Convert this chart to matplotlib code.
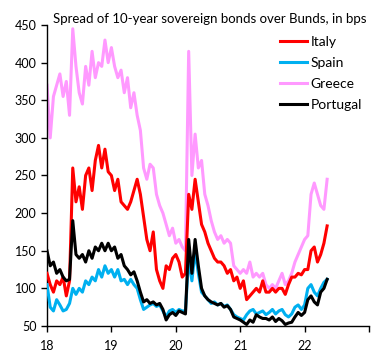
import matplotlib
matplotlib.use("Agg")
import matplotlib.pyplot as plt
import numpy as np

plt.rcParams['font.family'] = ['Lato', 'DejaVu Sans']

start_year = 18.0
step = 0.05

italy = [120, 105, 95, 110, 105, 115, 90, 110, 260, 215, 235, 205, 250, 260, 230, 270, 290, 260, 285, 255,
         250, 230, 245, 215, 210, 205, 215, 230, 245, 225, 195, 165, 150, 175, 125, 110, 100, 130, 125, 140,
         145, 135, 115, 120, 225, 205, 245, 215, 185, 175, 160, 150, 140, 135, 135, 130, 120, 125, 110, 115,
         100, 110, 85, 90, 95, 100, 95, 110, 95, 95, 100, 95, 100, 100, 92, 105, 115, 115, 120, 118,
         125, 125, 150, 155, 135, 145, 160, 183]
spain = [105, 75, 70, 85, 78, 70, 72, 80, 100, 92, 100, 95, 110, 105, 115, 110, 125, 115, 130, 120,
         125, 115, 125, 110, 112, 105, 112, 105, 100, 85, 72, 75, 78, 80, 76, 78, 70, 62, 70, 72,
         68, 72, 70, 70, 140, 110, 150, 120, 95, 90, 85, 80, 82, 78, 80, 76, 78, 72, 65, 62,
         60, 58, 65, 70, 72, 66, 68, 70, 65, 68, 72, 66, 70, 72, 65, 62, 66, 75, 78, 72,
         78, 100, 105, 95, 90, 100, 108, 112]
greece = [370, 300, 355, 370, 385, 355, 375, 330, 445, 395, 360, 345, 395, 370, 415, 380, 400, 395, 430, 400,
          420, 395, 380, 390, 360, 380, 340, 360, 330, 310, 260, 245, 265, 260, 225, 210, 200, 185, 170, 180,
          160, 165, 155, 150, 415, 250, 305, 260, 270, 225, 210, 190, 175, 165, 170, 160, 165, 160, 130, 125,
          120, 125, 120, 135, 115, 120, 115, 120, 105, 100, 105, 100, 110, 120, 105, 110, 120, 135, 145, 155,
          165, 170, 225, 240, 225, 210, 205, 245]
portugal = [150, 130, 135, 120, 125, 115, 110, 112, 190, 145, 140, 145, 135, 150, 140, 155, 150, 160, 150, 160,
            150, 155, 140, 145, 130, 125, 118, 122, 110, 95, 82, 85, 80, 82, 78, 80, 72, 58, 65, 68,
            64, 70, 68, 66, 165, 120, 165, 130, 100, 90, 85, 82, 80, 78, 80, 75, 77, 72, 62, 60,
            58, 55, 52, 58, 55, 65, 62, 60, 60, 58, 62, 56, 60, 57, 52, 54, 55, 62, 68, 64,
            68, 85, 90, 82, 78, 95, 100, 112]

series_names = ["Italy", "Spain", "Greece", "Portugal"]
series_colors = {"Italy": "#FF0000", "Spain": "#00B0F0", "Greece": "#FF99FF", "Portugal": "#000000"}
x_tick_values = [18, 19, 20, 21, 22, 23]
x_tick_labels = ["18", "19", "20", "21", "22", ""]
y_tick_values = [50, 100, 150, 200, 250, 300, 350, 400, 450]
title = "Spread of 10-year sovereign bonds over Bunds, in bps"

data = {"Italy": italy, "Spain": spain, "Greece": greece, "Portugal": portugal}
t = start_year + step * np.arange(len(italy))

fig = plt.figure(figsize=(3.84, 3.60), dpi=100)
ax = fig.add_axes([47/384, 1-326/360, (369-47)/384, (326-25)/360])

handles = {}
for name, z in [("Greece", 2), ("Italy", 3), ("Spain", 4), ("Portugal", 5)]:
    ln, = ax.plot(t, data[name], color=series_colors[name], lw=2.2, zorder=z, label=name)
    handles[name] = ln

ax.set_xlim(18, 23)
ax.set_ylim(50, 450)
ax.set_xticks(x_tick_values)
ax.set_xticklabels(x_tick_labels)
ax.set_yticks(y_tick_values)
for s in ["top", "right"]:
    ax.spines[s].set_visible(False)
for s in ["left", "bottom"]:
    ax.spines[s].set_linewidth(1.0)
ax.tick_params(axis='both', direction='out', length=4, width=1.0, labelsize=9, colors='black')
ax.tick_params(axis='x', pad=6)

fig.text(53/384, 1-19/360, title, fontsize=9.5, ha='left', va='center')

leg = fig.legend([handles[n] for n in series_names], series_names,
                 loc='upper left', bbox_to_anchor=(280/384, 1-36/360),
                 bbox_transform=fig.transFigure, frameon=False, fontsize=10,
                 handlelength=1.95, handletextpad=0.25, labelspacing=0.65,
                 borderpad=0, borderaxespad=0)

fig.savefig("out.png", dpi=100)
